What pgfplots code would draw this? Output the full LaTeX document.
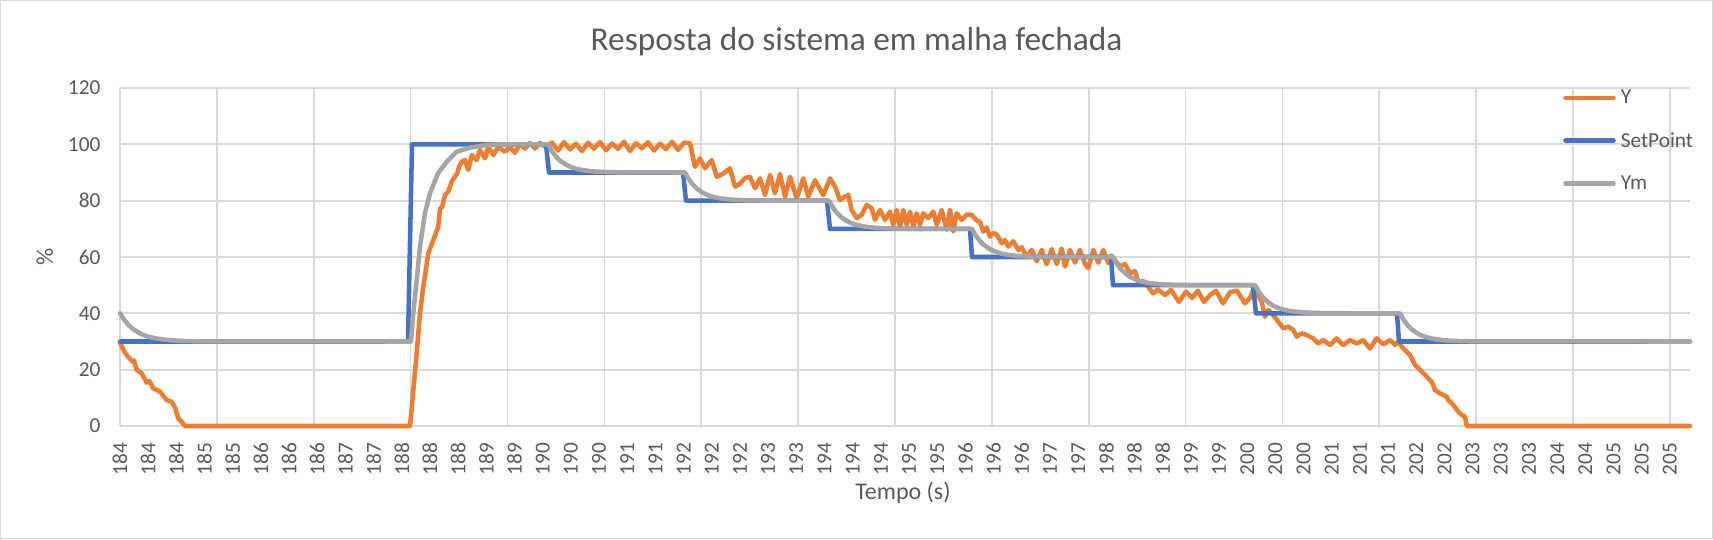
\documentclass[border=0pt]{standalone}
\usepackage{fontspec}
\setmainfont{Carlito}
\usepackage{pgfplots}
\pgfplotsset{compat=1.18}
\definecolor{cOrange}{HTML}{ED7D31}
\definecolor{cBlue}{HTML}{4472C4}
\definecolor{cGray}{HTML}{A5A5A5}
\definecolor{cGrid}{HTML}{D9D9D9}
\definecolor{cText}{HTML}{595959}
\begin{document}
\begin{tikzpicture}
\path[use as bounding box] (-90pt,-84.75pt) rectangle (1194.75pt,319.5pt);
\begin{axis}[
  at={(0pt,0pt)}, anchor=south west,
  scale only axis, width=1177.5pt, height=253.5pt,
  xmin=0, xmax=1570, ymin=0, ymax=120,
  clip=false,
  axis line style={draw=none},
  tick style={draw=none},
  ytick={0,20,...,120},
  xtick={0,28.18,...,1550},
  xticklabels={184,184,184,185,185,186,186,186,187,187,188,188,188,189,189,190,190,190,191,191,192,192,192,193,193,194,194,194,195,195,196,196,196,197,197,198,198,198,199,199,200,200,200,201,201,201,202,202,203,203,203,204,204,205,205,205},
  minor xtick={0,96.875,...,1560},
  xmajorgrids=false, xminorgrids=true, ymajorgrids=true,
  major grid style={cGrid, line width=1.3pt},
  minor grid style={cGrid, line width=1.3pt},
  /pgf/number format/assume math mode=true,
  ticklabel style={font=\fontsize{16}{16}\selectfont, text=cText, inner sep=0pt},
  xticklabel style={rotate=90, anchor=east},
  yticklabel style={anchor=east},
  xticklabel shift=12.5pt,
  yticklabel shift=14.5pt,
  title={Resposta do sistema em malha fechada},
  title style={at={(axis description cs:0.4691,1.0867)}, anchor=base, font=\fontsize{25}{25}\selectfont, text=cText, inner sep=0pt},
  xlabel={Tempo (s)},
  xlabel style={at={(axis description cs:0.4987,-0.2189)}, anchor=base, font=\fontsize{18}{18}\selectfont, text=cText, inner sep=0pt},
  ylabel={\%},
  ylabel style={at={(axis description cs:-0.04268,0.5)}, anchor=base, font=\fontsize{18}{18}\selectfont, text=cText, inner sep=0pt},
  legend style={at={(axis description cs:0.9191,0.9947)}, anchor=north west, draw=none, fill=none, font=\fontsize{16}{16}\selectfont, text=cText, row sep=20pt, inner sep=0pt, column sep=3.75pt, nodes={inner sep=0pt}},
  legend cell align=left,
  legend image code/.code={\draw[#1] (0pt,0pt) -- (36pt,0pt);},
  every axis plot/.append style={line width=3.4pt, line join=round, line cap=round},
]
\addplot[cOrange] coordinates {
(0,29.6) (5,26) (8,24.6) (12.7,22.8) (14,23.3) (16.7,19.9) (21.7,18.7) (26.7,15.4) (29.5,15.9) (33.3,13.4) (40,12.2) (46.7,9.2) (51.7,8.6) (55,6.5) (58.3,2.7) (61.7,1.5) (65,0)
(290,0) (291.7,6.3) (296.7,25.8) (300,40) (303.3,49.5) (308.3,61.3) (313.3,66) (318.3,70.8) (320,77.3) (322,77.5) (325,82) (328.3,83.2) (331.7,86.7) (334,88) (337.3,89.7) (339,92) (341.7,93.8) (345,94.4) (348.3,90.9) (351.7,96.2) (356.7,94.4) (360,98) (365,95) (368.3,99.1) (373.3,96.2) (378.3,99) (385,97.4) (390,99) (395,97) (400,100) (405,98.5) (410,100.5) (415,98.5) (420,100.5)
(426,99) (432,100.6) (438,97.8) (444,100.8) (450,98.2) (456,100.2) (462,97.6) (468,100.5) (474,98.5) (480,100.8) (486,97.9) (492,100.3) (498,98.4) (504,100.9) (510,97.6) (516,100.4) (522,98.6) (528,100.7) (534,97.8) (540,100.2) (546,98.3) (552,100.9) (558,98.0) (564,100.6)
(570,100.4) (575,92.0) (580,95.0) (585,91.5) (591.7,94.4) (596.7,88.5) (603,89.5) (610,91.5) (615,85.0) (620,86.0) (625,88.0) (630,88.5) (635,84.4) (640,87.9) (645,82) (650,89.1) (655,82.6) (660,89.5) (665,81.4) (670,88.5) (676.7,80.8) (683.3,87.9) (688.3,81.4) (695,87.3) (703.3,82) (710,87.9)
(715,85) (720,80.2) (725,81.5) (728.3,82) (731.7,76.7) (736.7,73.8) (741.7,75) (746.7,78.5) (751.7,77.3) (755,73.2) (760,76.7) (765,73.2) (770,76.1) (773.3,71.4) (776.7,76.7) (780,70.8) (783.3,76.7) (786.7,71.4) (790,76.1) (793.3,70.8) (796.7,75.5) (800,71.4) (803.3,75.5) (808.3,73.8) (813.3,76.1) (816.7,71.4) (821.7,76.7) (826.7,69.7) (830,76.7) (833.3,69.1) (836.7,75.5) (841.7,73.2) (846.7,75) (851.7,75)
(853.3,74.3) (856.7,73) (860,72.5) (863.3,69) (866.7,70.5) (870,67.2) (873.3,68.5) (876.7,68) (881.7,64.9) (885,66) (888.3,63.7) (893.3,65.6) (898.3,62.5) (901.7,63.5) (906.7,60) (911.7,62.5) (916.7,58.5) (921.7,62.5) (926.7,57.5) (931.7,62.8) (936.7,57.5) (941.7,63) (945,56.6) (950,62.5) (955,58) (960,62.5) (965,57.5) (968.3,56) (973.3,62.5) (978.3,58) (983.3,62.5) (988.3,57.8) (991.7,60.5)
(995,58.9) (1000,56.6) (1005,57.5) (1010,54.2) (1015,55) (1018.3,51.2) (1023.3,51.5) (1028,49.5) (1033,47.1) (1038,48.5) (1045,46.5) (1051,48.3) (1059,44.1) (1066,47.7) (1072,45.5) (1078,48.0) (1084,44.0) (1090,46.5) (1096,48.0) (1103,43.5) (1110,47.5) (1117,48.0) (1125,43.5) (1130,45.5) (1134,48.9)
(1136.7,47.1) (1141.7,44.1) (1145,38.8) (1148.3,41.2) (1153.3,39.4) (1158.3,37) (1163.3,34.7) (1168.3,35.3) (1173.3,34.1) (1176.7,31.7) (1181.7,32.9) (1186.7,32.3) (1193.3,31.1) (1198.3,29.3) (1203.3,30.5) (1210,28.7) (1216.7,31.1) (1223.3,28.7) (1230,30.5) (1236.7,29.3) (1243.3,30.5) (1250,27.5) (1256.7,31.1) (1263.3,29) (1270,30.5) (1275,28.8) (1278.3,29.9)
(1283.3,27.5) (1290,25.2) (1295,21.7) (1300,19.9) (1306.7,17.5) (1311.7,15.7) (1315,12.8) (1320,11.6) (1326.7,10.4) (1328.3,9.2) (1333.3,7.5) (1338.3,5.1) (1341.7,3.9) (1345,3.3) (1346.7,0) (1570,0)
};
\addlegendentry{Y}
\addplot[cBlue] coordinates {
(0,30) (288,30) (292,100) (426,100) (429,90) (563,90) (566,80) (707,80) (710,70) (850,70) (852,60) (991,60) (993,50) (1133,50) (1136,40) (1277,40) (1279,30) (1570,30)
};
\addlegendentry{SetPoint}
\addplot[cGray] coordinates {
(0,40) (4,37.8) (8,36.1) (12,34.7) (17,33.5) (22,32.5) (28,31.7) (36,31.1) (46,30.6) (60,30.2) (80,30.05)
(291,30) (293.3,40) (296.7,51.8) (300,63.7) (305,75.6) (310,82.6) (318,89.7) (326.7,93.8) (336.7,97.4) (350,98.8) (366.7,99.8) (380,100)
(428,100) (432,97.51) (436,95.65) (440,94.24) (445,92.97) (450,92.08) (456,91.35) (464,90.76) (474,90.37) (488,90.14) (508,90.03)
(565,90) (569,87.51) (573,85.65) (577,84.24) (582,82.97) (587,82.08) (593,81.35) (601,80.76) (611,80.37) (625,80.14) (645,80.03)
(709,80) (713,77.51) (717,75.65) (721,74.24) (726,72.97) (731,72.08) (737,71.35) (745,70.76) (755,70.37) (769,70.14) (789,70.03)
(852,70) (856,67.51) (860,65.65) (864,64.24) (869,62.97) (874,62.08) (880,61.35) (888,60.76) (898,60.37) (912,60.14) (932,60.03)
(993,60) (997,57.51) (1001,55.65) (1005,54.24) (1010,52.97) (1015,52.08) (1021,51.35) (1029,50.76) (1039,50.37) (1053,50.14) (1073,50.03)
(1135,50) (1139,47.51) (1143,45.65) (1147,44.24) (1152,42.97) (1157,42.08) (1163,41.35) (1171,40.76) (1181,40.37) (1195,40.14) (1215,40.03)
(1280,40) (1284,37.51) (1288,35.65) (1292,34.24) (1297,32.97) (1302,32.08) (1308,31.35) (1316,30.76) (1326,30.37) (1340,30.14) (1360,30.03) (1570,30)
};
\addlegendentry{Ym}
\end{axis}
\draw[cGrid, line width=0.9pt] (-89.55pt,-84.3pt) rectangle (1194.3pt,319.05pt);
\end{tikzpicture}
\end{document}
